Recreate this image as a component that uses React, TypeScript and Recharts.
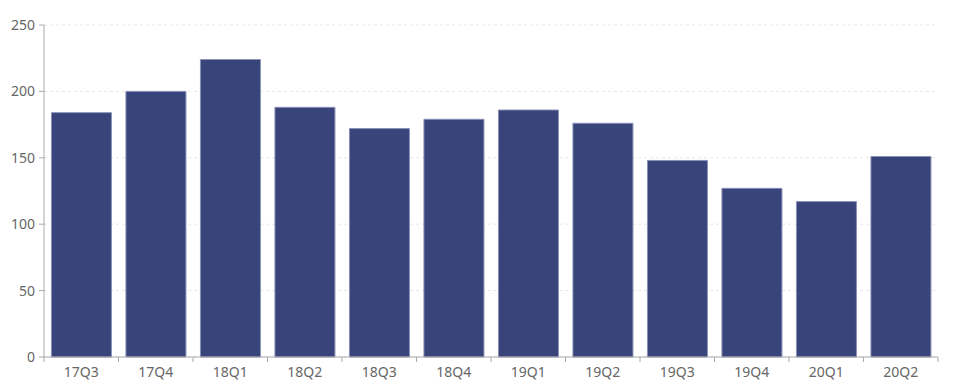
import React from 'react';
import { BarChart, Bar, XAxis, YAxis, CartesianGrid } from 'recharts';

const categories = ['17Q3', '17Q4', '18Q1', '18Q2', '18Q3', '18Q4', '19Q1', '19Q2', '19Q3', '19Q4', '20Q1', '20Q2'];
const values = [184, 200, 224, 188, 172, 179, 186, 176, 148, 127, 117, 151];
const yTicks = [0, 50, 100, 150, 200, 250];

const data = categories.map((c, i) => ({ name: c, value: values[i] }));

const FONT = '"Noto Sans", "Open Sans", sans-serif';
const TEXT = '#666666';
const AXIS = '#aaaaaa';
const X_TICK_SIZE = 5;
const X_TICK_MARGIN = 5;

const XTick = (props: any) => {
  const { x, y, payload, index } = props;
  const axisY = y - X_TICK_SIZE - X_TICK_MARGIN;
  const half = payload && payload.offset ? payload.offset : 0;
  const isLast = index === categories.length - 1;
  return (
    <g>
      <line x1={x - half} x2={x - half} y1={axisY} y2={axisY + X_TICK_SIZE} stroke={AXIS} />
      {isLast && (
        <line x1={x + half} x2={x + half} y1={axisY} y2={axisY + X_TICK_SIZE} stroke={AXIS} />
      )}
      <text
        x={x}
        y={y}
        dy="0.71em"
        textAnchor="middle"
        fill={TEXT}
        fontSize={14}
        fontFamily={FONT}
      >
        {payload.value}
      </text>
    </g>
  );
};

export default function App() {
  return (
    <div style={{ position: 'absolute', left: 0, top: 0, background: '#fff' }}>
      <BarChart
        width={957}
        height={385}
        data={data}
        margin={{ top: 25, right: 19, bottom: 0, left: 0 }}
        barCategoryGap="10%"
      >
        <CartesianGrid
          vertical={false}
          stroke="#e6e6e6"
          strokeDasharray="3 3"
        />
        <XAxis
          dataKey="name"
          height={28}
          axisLine={{ stroke: AXIS }}
          tickLine={{ stroke: 'none' }}
          tickSize={X_TICK_SIZE}
          tickMargin={X_TICK_MARGIN}
          tick={<XTick />}
          interval={0}
        />
        <YAxis
          width={44}
          domain={[0, 250]}
          ticks={yTicks}
          axisLine={{ stroke: AXIS }}
          tickLine={{ stroke: AXIS }}
          tickSize={5}
          tickMargin={4}
          tick={{ fill: TEXT, fontSize: 14, fontFamily: FONT }}
        />
        <Bar
          dataKey="value"
          fill="#38447a"
          stroke="#8a90b6"
          strokeWidth={1}
          isAnimationActive={false}
        />
      </BarChart>
    </div>
  );
}
